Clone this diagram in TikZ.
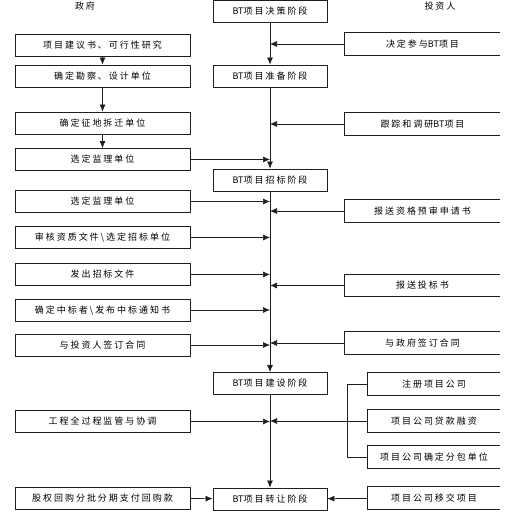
\documentclass[tikz,border=0pt]{standalone}
\usepackage{fontspec}
\usepackage{tikz}
\usetikzlibrary{arrows.meta,positioning,calc}
\newfontfamily\cjk[LetterSpace=22]{Noto Sans CJK SC}
\newfontfamily\cjktight{Noto Sans CJK SC}
\newcommand{\bt}{{\cjktight BT}}
\definecolor{ink}{RGB}{30,30,30}

\begin{document}
\begin{tikzpicture}[x=1pt,y=-1pt,
  font=\cjk\fontsize{9}{10}\selectfont,
  govbox/.style={rectangle,draw=ink,line width=0.8pt,minimum width=175pt,minimum height=22pt,inner sep=0pt},
  stagebox/.style={rectangle,draw=ink,line width=0.8pt,minimum width=114pt,minimum height=22pt,inner sep=0pt},
  invbox/.style={rectangle,minimum width=155pt,minimum height=22pt,inner sep=0pt},
  subbox/.style={rectangle,minimum width=132pt,minimum height=22pt,inner sep=0pt},
  arrow/.style={-{Latex[length=7pt,width=6pt]},line width=0.7pt,draw=ink}
]
\useasboundingbox (0,0) rectangle (531,513);
% column titles
\node (gov) at (85,6) {政府};
\node (inv) at (440,6) {投资人};
% stages
\node[stagebox] (s1) at (270,11.5) {\bt 项目决策阶段};
\node[stagebox] (s2) at (270,76) {\bt 项目准备阶段};
\node[stagebox] (s3) at (270,180) {\bt 项目招标阶段};
\node[stagebox] (s4) at (270,383.5) {\bt 项目建设阶段};
\node[stagebox] (s5) at (270,499) {\bt 项目转让阶段};
% government side
\node[govbox] (g1) at (102.5,45.5) {项目建议书、可行性研究};
\node[govbox] (g2) at (102.5,76) {确定勘察、设计单位};
\node[govbox] (g3) at (102.5,123) {确定征地拆迁单位};
\node[govbox] (g4) at (102.5,159.5) {选定监理单位};
\node[govbox] (g5) at (102.5,201.5) {选定监理单位};
\node[govbox] (g6) at (102.5,237.5) {审核资质文件\textbackslash 选定招标单位};
\node[govbox] (g7) at (102.5,274.5) {发出招标文件};
\node[govbox] (g8) at (102.5,310) {确定中标者\textbackslash 发布中标通知书};
\node[govbox] (g9) at (102.5,345) {与投资人签订合同};
\node[govbox] (g10) at (102.5,421.5) {工程全过程监管与协调};
\node[govbox] (g11) at (102.5,498) {股权回购分批分期支付回购款};
% investor side
\node[invbox] (r1) at (422.5,44) {决定参与\bt 项目};
\node[invbox] (r2) at (422.5,124) {跟踪和调研\bt 项目};
\node[invbox] (r3) at (422.5,211) {报送资格预审申请书};
\node[invbox] (r4) at (422.5,285.5) {报送投标书};
\node[invbox] (r5) at (422.5,343) {与政府签订合同};
\node[subbox] (r6) at (434,384) {注册项目公司};
\node[subbox] (r7) at (434,421) {项目公司贷款融资};
\node[subbox] (r8) at (434,457) {项目公司确定分包单位};
\node[subbox] (r9) at (434,498) {项目公司移交项目};
\foreach \r in {r1,r2,r3,r4,r5,r6,r7,r8,r9}
  \draw[draw=ink,line width=0.8pt] (\r.north east) -- (\r.north west) -- (\r.south west) -- (\r.south east);
% main line
\draw[arrow] (s1) -- (s2);
\draw[arrow] (s2) -- (s3);
\draw[arrow] (s3) -- (s4);
\draw[arrow] (s4) -- (s5);
% government chain
\draw[arrow] (g1) -- (g2);
\draw[arrow] (g2) -- (g3);
\draw[arrow] (g3) -- (g4);
\foreach \g in {g4,g5,g6,g7,g8,g9,g10}
  \draw[arrow] (\g.east) -- (\g.east -| s1.center);
\draw[arrow] (g11) -- (s5);
% investor arrows
\foreach \r in {r1,r2,r3,r4,r5,r7}
  \draw[arrow] (\r.west) -- (\r.west -| s1.center);
\draw[arrow] (r9) -- (s5);
\draw[draw=ink,line width=0.7pt] (r6.west) -- ++(-20,0) |- (r8.west);
\end{tikzpicture}
\end{document}
